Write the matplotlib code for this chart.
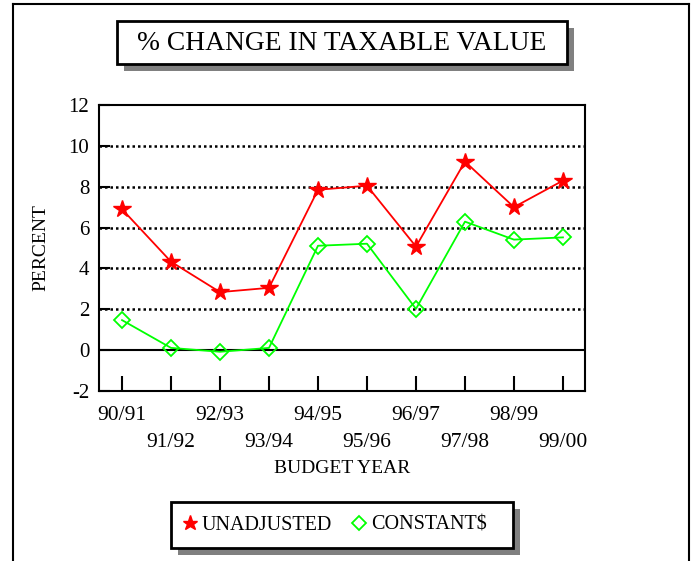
import matplotlib
matplotlib.use("Agg")
import matplotlib.pyplot as plt
from matplotlib.patches import Rectangle
from matplotlib.lines import Line2D

# %% data
years = ["90/91", "91/92", "92/93", "93/94", "94/95",
         "95/96", "96/97", "97/98", "98/99", "99/00"]
unadjusted = [6.9, 4.33, 2.84, 3.05, 7.85, 8.05, 5.07, 9.23, 7.0, 8.3]
constant = [1.47, 0.11, -0.08, 0.11, 5.11, 5.21, 2.02, 6.29, 5.41, 5.52]

plt.rcParams["font.family"] = ["Liberation Serif", "DejaVu Serif"]

W, H = 692, 561
fig = plt.figure(figsize=(W / 100, H / 100), dpi=100)


def fx(px):
    return px / W


def fy(py):
    return 1 - py / H


# %% outer border (open at the bottom)
for xs, ys in [((13, 13), (4, 561)), ((13, 689), (4, 4)), ((689, 689), (4, 561))]:
    fig.add_artist(Line2D([fx(x) for x in xs], [fy(y) for y in ys],
                          color="black", lw=1.5))


def shadow_box(x0, y0, x1, y1, off=7):
    fig.add_artist(Rectangle((fx(x0 + off), fy(y1 + off)), fx(x1 - x0), fy(y0) - fy(y1),
                             facecolor="#808080", edgecolor="none"))
    fig.add_artist(Rectangle((fx(x0), fy(y1)), fx(x1 - x0), fy(y0) - fy(y1),
                             facecolor="white", edgecolor="black", lw=2))


# %% title
shadow_box(117, 21, 567, 64)
fig.text(fx(342), fy(43), "% CHANGE IN TAXABLE VALUE", ha="center", va="center",
         fontsize=19.8)

# %% axes
ax = fig.add_axes([fx(99), fy(391), fx(585) - fx(99), fy(105) - fy(391)])
x = list(range(len(years)))
ax.axhline(0, color="black", lw=1.5, zorder=1)
for v in [2, 4, 6, 8, 10]:
    ax.axhline(v, color="black", lw=1.8, ls=(0, (1, 1.2)), zorder=1)
ax.plot(x, unadjusted, color="#ff0000", lw=1.3, marker="*", markersize=13,
        label="UNADJUSTED", zorder=3)
ax.plot(x, constant, color="#00ff00", lw=1.3, marker="D", markersize=8.5,
        markerfacecolor="none", markeredgewidth=1.3, label="CONSTANT$", zorder=3)

ax.set_xlim(-0.47, 9.45)
ax.set_ylim(-2, 12)
ax.set_yticks(range(-2, 13, 2))
ax.set_yticklabels([str(v) for v in range(-2, 13, 2)])
ax.set_xticks(x)
ax.set_xticklabels([y if i % 2 == 0 else "\n" + y for i, y in enumerate(years)],
                   linespacing=1.55)
ax.tick_params(axis="y", direction="in", length=8, width=1.5, labelsize=15, pad=7)
ax.tick_params(axis="x", direction="in", length=11, width=1.5, labelsize=15.5, pad=11)
for s in ax.spines.values():
    s.set_linewidth(1.5)

ax.set_ylabel("PERCENT", fontsize=14, labelpad=14)
ax.set_xlabel("BUDGET YEAR", fontsize=14, labelpad=6)

# %% legend
shadow_box(171, 502, 513, 548)
handles, labels = ax.get_legend_handles_labels()
leg = fig.legend(handles, labels, loc="center", bbox_to_anchor=(fx(334), fy(525)),
                 ncol=2, frameon=False, fontsize=14.5, handlelength=0.9,
                 handletextpad=0.15, columnspacing=0.9, markerscale=0.85)
for line in leg.get_lines():
    line.set_linestyle("none")

fig.savefig("out.png", dpi=100)
